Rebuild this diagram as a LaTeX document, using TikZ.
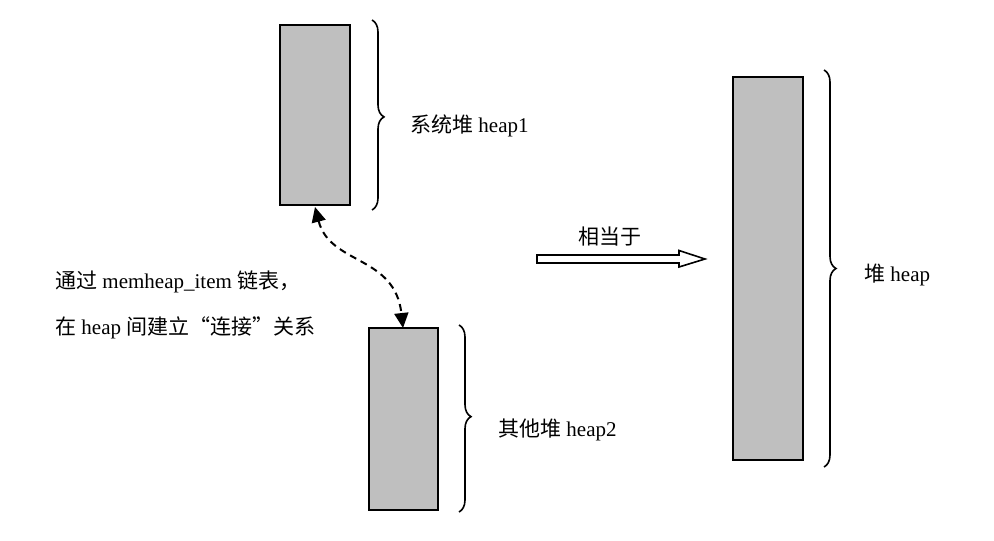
\documentclass[tikz,border=0pt]{standalone}
\usepackage{fontspec}
\setmainfont{Liberation Serif}
\newfontfamily\cjk{Noto Sans CJK SC}
\usetikzlibrary{decorations.pathreplacing,arrows.meta}
\begin{document}
\begin{tikzpicture}[x=1pt,y=-1pt,
  heapbox/.style={draw=black,line width=1.8pt,fill=gray!50!white},
  bracestyle/.style={draw=black,line width=1.6pt,decorate,decoration={brace,amplitude=12pt}},
  lbl/.style={anchor=west,inner sep=0pt,font=\fontsize{21}{25}\selectfont},
  ]
\useasboundingbox[fill=white] (0,0) rectangle (994,541);
% boxes
\path[heapbox] (280,25) rectangle (350,205);
\coordinate (b1bot) at (315,205);
\path[heapbox] (369,328) rectangle (438,510);
\coordinate (b2top) at (403,328);
\path[heapbox] (733,77) rectangle (803,460);
% braces
\coordinate (br1a) at (372,20); \coordinate (br1b) at (372,210);
\draw[bracestyle,decoration={aspect=0.51}] (br1a) -- (br1b);
\coordinate (br2a) at (459,325); \coordinate (br2b) at (459,512);
\draw[bracestyle,decoration={aspect=0.49}] (br2a) -- (br2b);
\coordinate (br3a) at (824,70); \coordinate (br3b) at (824,467);
\draw[bracestyle,decoration={aspect=0.50}] (br3a) -- (br3b);
% labels
\node[lbl] (l1) at (410,126) {{\cjk 系统堆} heap1};
\node[lbl] (l2) at (498,430) {{\cjk 其他堆} heap2};
\node[lbl] (l3) at (864,275) {{\cjk 堆} heap};
\node[lbl] (l4) at (55,282) {{\cjk 通过} memheap\_item {\cjk 链表，}};
\node[lbl] (l5) at (55,328) {{\cjk 在} heap {\cjk 间建立“连接”关系}};
\node[lbl] (l6) at (578,237) {\cjk 相当于};
% dashed link
\draw[line width=2pt,dash pattern=on 7pt off 5pt,{Triangle[length=15pt,width=14pt]}-{Triangle[length=15pt,width=14pt]}]
  (b1bot) ++(0,2) .. controls (330,265) and (395,255) .. (b2top);
% hollow arrow
\draw[line width=1.6pt,fill=white] (537,255) -- (679,255) -- (679,250.5) -- (705,259) -- (679,267) -- (679,263) -- (537,263) -- cycle;
\end{tikzpicture}
\end{document}
